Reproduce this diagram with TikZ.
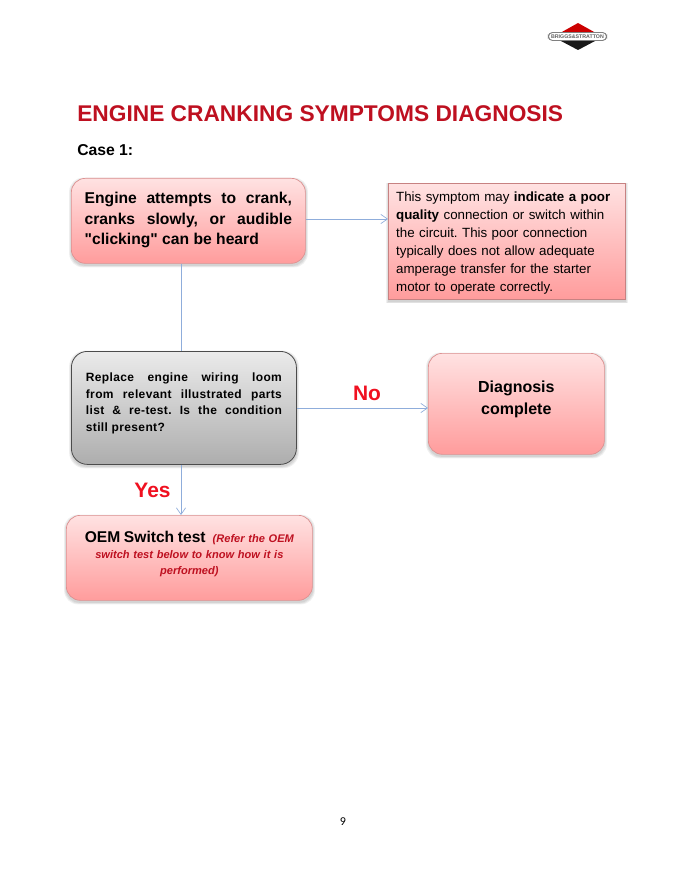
\documentclass[tikz,border=0pt]{standalone}
\usepackage{fontspec}
\setmainfont{Liberation Sans}
\newfontfamily\pagefont{Carlito}
\newfontfamily\rawquote{Liberation Sans}
\newfontfamily\spacedsans[LetterSpace=3]{Liberation Sans}
\usetikzlibrary{arrows.meta,calc}
\definecolor{titlered}{HTML}{BE1020}
\definecolor{linkblue}{HTML}{8FADDB}
\definecolor{pinktop}{HTML}{FFE2E2}
\definecolor{pinkbot}{HTML}{FF9C9C}
\definecolor{pinkedge}{HTML}{DD9090}
\definecolor{labelred}{HTML}{F01020}
\newcommand{\softshadow}[5]{% x1,y1,x2,y2,radius
  \foreach \g in {2.4,1.6,0.8}{
    \fill[black,opacity=0.06,rounded corners=#5]
      (#1-\g+0.5,#2+2-\g) rectangle (#3+\g+0.5,#4+2+\g);
  }
}
\newcommand{\fullline}[1]{\makebox[\hsize][s]{#1}\par}
\newcommand{\plainline}[1]{\mbox{#1}\par}
\frenchspacing
\tikzset{
  x=0.75pt,y=-0.75pt,
  pinkbox/.style={draw=pinkedge,line width=0.5pt,top color=pinktop,bottom color=pinkbot,
    rounded corners=10.5pt,anchor=north west,inner xsep=0pt,inner ysep=0pt,text=black},
  greybox/.style={draw=black!70,line width=0.6pt,top color=black!8,bottom color=black!32,
    rounded corners=12pt,anchor=north west,inner xsep=0pt,inner ysep=0pt,text=black},
  squarebox/.style={pinkbox,rounded corners=0pt,draw=pinkedge!90!black},
  link/.style={draw=linkblue,line width=0.6pt},
  linkarrow/.style={link,-{Straight Barb[length=5pt,width=7pt,line width=0.5pt]}},
  choice/.style={text=labelred,font=\bfseries\fontsize{15.7}{18}\selectfont,inner sep=0pt},
}
\begin{document}
\begin{tikzpicture}
\useasboundingbox (0,0) rectangle (687,884);
\fill[white] (0,0) rectangle (687,884);

% logo
\fill[black!90] (578,50) -- (561,41) -- (595,41) -- cycle;
\fill[red!80!black] (578,23) -- (561,32.5) -- (595,32.5) -- cycle;
\node[draw=black!50,fill=white,line width=0.7pt,rounded corners=3pt,inner xsep=2pt,inner ysep=1.6pt,
  font=\bfseries\fontsize{3.95}{4.2}\selectfont,text=black!62] (logo) at (577.5,36.5) {BRIGGS\&STRATTON};

% headings
\node[anchor=base west,inner sep=0pt,text=titlered,font=\bfseries\fontsize{17.05}{20}\selectfont] (title) at (77,122) {ENGINE CRANKING SYMPTOMS DIAGNOSIS};
\node[anchor=base west,inner sep=0pt,font=\bfseries\fontsize{11.8}{14}\selectfont] (case) at (77,155.5) {Case 1:};

% shadows
\softshadow{71}{178}{305}{263}{10.5pt}
\softshadow{388}{183}{625}{299}{0pt}
\softshadow{71}{351}{296}{464}{12pt}
\softshadow{428}{353}{604}{454}{10.5pt}
\softshadow{66}{515}{312}{600}{10.5pt}

% boxes
\node[pinkbox,minimum width=175.5pt,minimum height=63.75pt,text width=155.5pt,align=justify,
  font=\bfseries\fontsize{11.75}{15.4}\selectfont] (A) at (71,178)
  {\fullline{Engine attempts to crank,}\fullline{cranks slowly, or audible}\plainline{{\rawquote"}clicking{\rawquote"} can be heard}\vspace{1pt}};
\node[squarebox,minimum width=177.75pt,minimum height=87pt,text width=166pt,align=left,
  font=\fontsize{10}{13.5}\selectfont] (B) at (388,183)
  {\plainline{\rule{0pt}{10.5pt}This symptom may \textbf{indicate a poor}}\plainline{\textbf{quality} connection or switch within}\plainline{the circuit. This poor connection}\plainline{typically does not allow adequate}\plainline{amperage transfer for the starter}\plainline{motor to operate correctly.}};
\node[greybox,minimum width=168.75pt,minimum height=84.75pt,text width=147pt,align=justify,
  font=\spacedsans\bfseries\fontsize{9}{12.4}\selectfont] (C) at (71,351)
  {\fullline{Replace engine wiring loom}\fullline{from relevant illustrated parts}\fullline{list \& re-test. Is the condition}\plainline{still present?}\vspace{6.5pt}};
\node[pinkbox,minimum width=132pt,minimum height=75.75pt,text width=110pt,align=center,
  font=\bfseries\fontsize{12}{16.5}\selectfont] (D) at (428,353)
  {Diagnosis\\complete\par\vspace{7pt}};
\node[pinkbox,minimum width=184.5pt,minimum height=63.75pt,text width=175pt,align=center,
  font=\bfseries\fontsize{8.3}{12}\selectfont] (E) at (66,515)
  {{\fontsize{11.7}{12}\selectfont OEM Switch test}\hspace{2.5pt} {\itshape\color{titlered} (Refer the OEM\\switch test below to know how it is\\performed)}\par\vspace{6.5pt}};

% connectors
\coordinate (spine) at (181,0);
\draw[linkarrow] (A.east |- 0,219) -- (B.west |- 0,219);
\draw[link] (A.south -| spine) -- (C.north -| spine);
\draw[linkarrow] (C.east |- 0,408) -- (D.west |- 0,408);
\draw[linkarrow] (C.south -| spine) -- (E.north -| spine);

% labels
\node[choice] (no) at (367,393) {No};
\node[choice] (yes) at (152.5,490) {Yes};
\node[inner sep=0pt,font=\pagefont\fontsize{9}{11}\selectfont] (page) at (343,822) {9};
\end{tikzpicture}
\end{document}
